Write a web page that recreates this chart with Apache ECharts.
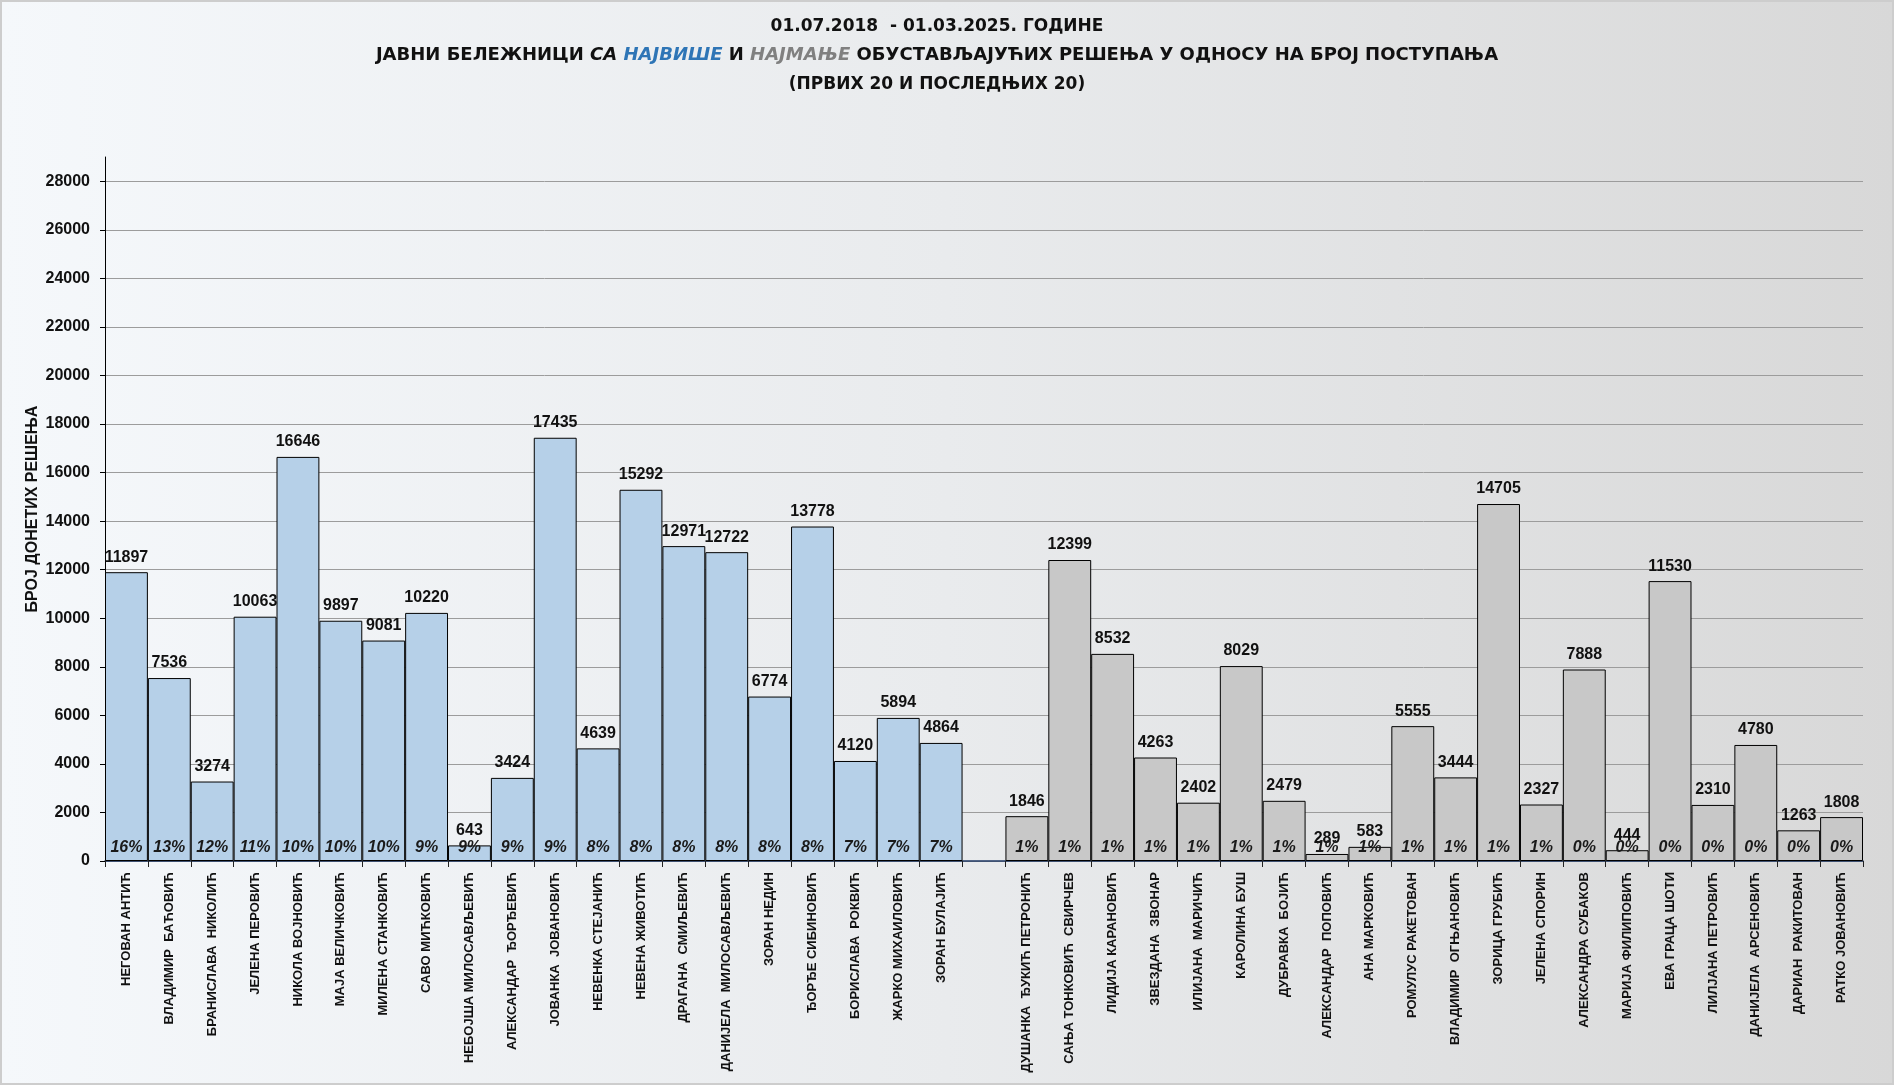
<!DOCTYPE html>
<html>
<head>
<meta charset="utf-8">
<script src="https://cdn.jsdelivr.net/npm/echarts@6/dist/echarts.min.js"></script>
<style>
html,body{margin:0;padding:0;}
#chart{position:absolute;left:0;top:0;width:1894px;height:1085px;
background:linear-gradient(to right,#f5f8fb 0%,#e9ebed 50%,#d8d8d8 100%);}
</style>
</head>
<body>
<div id="chart"></div>
<script>
// ---- data ----
const topNames = ['НЕГОВАН АНТИЋ','ВЛАДИМИР  БАЋОВИЋ','БРАНИСЛАВА  НИКОЛИЋ','ЈЕЛЕНА ПЕРОВИЋ','НИКОЛА ВОЈНОВИЋ','МАЈА ВЕЛИЧКОВИЋ','МИЛЕНА СТАНКОВИЋ','САВО МИЋКОВИЋ','НЕБОЈША МИЛОСАВЉЕВИЋ','АЛЕКСАНДАР  ЂОРЂЕВИЋ','ЈОВАНКА  ЈОВАНОВИЋ','НЕВЕНКА СТЕЈАНИЋ','НЕВЕНА ЖИВОТИЋ','ДРАГАНА  СМИЉЕВИЋ','ДАНИЈЕЛА  МИЛОСАВЉЕВИЋ','ЗОРАН НЕДИН','ЂОРЂЕ СИБИНОВИЋ','БОРИСЛАВА  РОКВИЋ','ЖАРКО МИХАИЛОВИЋ','ЗОРАН БУЛАЈИЋ'];
const topValues = [11897,7536,3274,10063,16646,9897,9081,10220,643,3424,17435,4639,15292,12971,12722,6774,13778,4120,5894,4864];
const topPercent = ['16%','13%','12%','11%','10%','10%','10%','9%','9%','9%','9%','8%','8%','8%','8%','8%','8%','7%','7%','7%'];

const bottomNames = ['ДУШАНКА  ЂУКИЋ ПЕТРОНИЋ','САЊА ТОНКОВИЋ  СВИРЧЕВ','ЛИДИЈА КАРАНОВИЋ','ЗВЕЗДАНА  ЗВОНАР','ИЛИЈАНА  МАРИЧИЋ','КАРОЛИНА БУШ','ДУБРАВКА  БОЈИЋ','АЛЕКСАНДАР  ПОПОВИЋ','АНА МАРКОВИЋ','РОМУЛУС РАКЕТОВАН','ВЛАДИМИР  ОГЊАНОВИЋ','ЗОРИЦА ГРУБИЋ','ЈЕЛЕНА СПОРИН','АЛЕКСАНДРА СУБАКОВ','МАРИЈА ФИЛИПОВИЋ','ЕВА ГРАЦА ШОТИ','ЛИЛЈАНА ПЕТРОВИЋ','ДАНИЈЕЛА  АРСЕНОВИЋ','ДАРИАН  РАКИТОВАН','РАТКО ЈОВАНОВИЋ'];
const bottomValues = [1846,12399,8532,4263,2402,8029,2479,289,583,5555,3444,14705,2327,7888,444,11530,2310,4780,1263,1808];
const bottomPercent = ['1%','1%','1%','1%','1%','1%','1%','1%','1%','1%','1%','1%','1%','0%','0%','0%','0%','0%','0%','0%'];

const yTicks = [0,2000,4000,6000,8000,10000,12000,14000,16000,18000,20000,22000,24000,26000,28000];

const titleLine1 = '01.07.2018  - 01.03.2025. ГОДИНЕ';
const titleLine3 = '(ПРВИХ 20 И ПОСЛЕДЊИХ 20)';
const yName = 'БРОЈ ДОНЕТИХ РЕШЕЊА';

// ---- build ----
const categories = topNames.concat([''], bottomNames);
const blank = n => Array.from({length:n}, () => '-');
const blueData = topValues.concat(blank(1 + bottomValues.length));
const grayData = blank(topValues.length + 1).concat(bottomValues);
const allValues = topValues.concat(['-'], bottomValues);
const allPercent = topPercent.concat([''], bottomPercent);

const NUM_FONT = '"Liberation Sans Narrow", "Liberation Sans", Arial, sans-serif';
const TXT_FONT = '"Liberation Sans", Arial, sans-serif';
const TITLE_FONT = '"DejaVu Sans", "Open Sans", sans-serif';

const chart = echarts.init(document.getElementById('chart'), null, {renderer:'canvas'});

const valueLabel = {
  show: true, position: 'top', distance: 7,
  fontFamily: NUM_FONT, fontWeight: 'bold', fontSize: 16, color: '#111'
};

const titleBase = {fontFamily: TITLE_FONT, fontWeight: 'bold', fontSize: 17, color: '#111'};
const title2Base = Object.assign({}, titleBase, {fontSize: 18});

const option = {
  backgroundColor: 'transparent',
  animation: false,
  title: [
    {text: titleLine1, left: 937, top: 18, textAlign: 'center', padding: 0, textStyle: titleBase},
    {text: '{a|ЈАВНИ БЕЛЕЖНИЦИ }{i|СА }{b|НАЈВИШЕ}{a| И }{g|НАЈМАЊЕ}{a| ОБУСТАВЉАЈУЋИХ РЕШЕЊА У ОДНОСУ НА БРОЈ ПОСТУПАЊА}',
     left: 937, top: 46, textAlign: 'center', padding: 0,
     textStyle: Object.assign({}, title2Base, {rich: {
       a: Object.assign({}, title2Base),
       i: Object.assign({}, title2Base, {fontStyle: 'italic'}),
       b: Object.assign({}, title2Base, {fontStyle: 'italic', color: '#2e75b6'}),
       g: Object.assign({}, title2Base, {fontStyle: 'italic', color: '#808080'})
     }})},
    {text: titleLine3, left: 937, top: 76, textAlign: 'center', padding: 0, textStyle: titleBase}
  ],
  graphic: [{
    type: 'rect', silent: true, z: 100,
    shape: {x: 1, y: 1, width: 1892, height: 1083},
    style: {fill: 'none', stroke: '#cdcdcd', lineWidth: 2}
  }],
  grid: {left: 105, right: 31, top: 157, bottom: 224, containLabel: false},
  xAxis: {
    type: 'category',
    data: categories,
    axisLine: {show: true, lineStyle: {color: '#1f3864', width: 1.5}},
    axisTick: {show: true, length: 6, lineStyle: {color: '#222'}},
    axisLabel: {
      interval: 0, rotate: 90, margin: 11,
      fontFamily: TXT_FONT, fontWeight: 'bold', fontSize: 13, color: '#111'
    },
    splitLine: {show: false}
  },
  yAxis: {
    type: 'value',
    min: 0, max: 29000, interval: 2000,
    name: yName, nameLocation: 'middle', nameGap: 64, nameRotate: 90,
    nameMoveOverlap: false,
    nameTextStyle: {fontFamily: TXT_FONT, fontWeight: 'bold', fontSize: 16, color: '#111'},
    axisLine: {show: true, lineStyle: {color: '#000', width: 1}},
    axisTick: {show: true, length: 5, lineStyle: {color: '#000'}},
    axisLabel: {
      margin: 15, showMaxLabel: false,
      fontFamily: NUM_FONT, fontWeight: 'bold', fontSize: 16, color: '#111',
      formatter: v => (yTicks.indexOf(v) >= 0 ? String(v) : '')
    },
    splitLine: {show: true, showMaxLine: false, lineStyle: {color: '#9c9c9c', width: 1}}
  },
  series: [
    {
      name: 'top', type: 'bar', data: blueData,
      barGap: '-100%', barCategoryGap: '0%',
      itemStyle: {color: '#b6d0e8', borderColor: '#000', borderWidth: 1},
      label: valueLabel
    },
    {
      name: 'bottom', type: 'bar', data: grayData,
      barGap: '-100%', barCategoryGap: '0%',
      itemStyle: {color: '#c8c8c8', borderColor: '#000', borderWidth: 1},
      label: valueLabel
    },
    {
      name: 'pct', type: 'bar', data: allValues,
      barGap: '-100%', barCategoryGap: '0%',
      itemStyle: {color: 'rgba(0,0,0,0)', borderWidth: 0},
      silent: true,
      label: {
        show: true, position: 'insideBottom', distance: 5,
        fontFamily: NUM_FONT, fontWeight: 'bold', fontStyle: 'italic', fontSize: 16, color: '#1a1a1a',
        formatter: p => allPercent[p.dataIndex]
      }
    }
  ]
};
chart.setOption(option);
</script>
</body>
</html>
